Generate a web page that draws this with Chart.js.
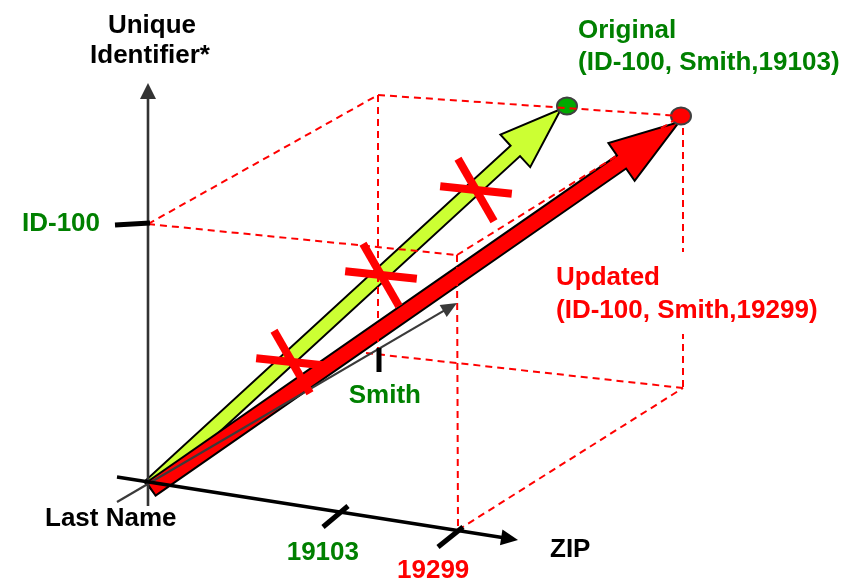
<!DOCTYPE html>
<html>
<head>
<meta charset="utf-8">
<script src="https://cdn.jsdelivr.net/npm/chart.js@4.4.1/dist/chart.umd.min.js"></script>
<style>
  html, body { margin: 0; padding: 0; background: #fff; }
  #diagram { display: block; }
</style>
</head>
<body>
<canvas id="diagram" width="854" height="588"></canvas>
<script>
  // diagram space: x 0..854 right, y 0..588 down
  var origin = [148, 484];
  var originalTip = [561, 109];
  var updatedTip = [679, 122];
  var originalDot = [567, 106];
  var updatedDot = [681, 116];
  var lastNameAxis = [[117, 502], [457, 303]];
  var idAxis = [[148, 506], [148, 83]];
  var zipAxis = [[117, 477], [518, 540]];

  // dashed guide box, each [x1, y1, x2, y2]
  var guideSegments = [
    [148, 224, 378, 95],
    [378, 95, 681, 116],
    [148, 224, 457, 255],
    [457, 255, 681, 116],
    [378, 95, 378, 355],
    [366, 353, 683, 388],
    [683, 116, 683, 388],
    [457, 255, 458, 530],
    [458, 530, 683, 388]
  ];

  var crossMarks = [[292, 362], [381, 275], [476, 190]];

  // tick marks on the three axes, each [x1, y1, x2, y2]
  var tickMarks = [
    [115, 225, 150, 223],
    [379, 348, 379, 372],
    [323, 527, 348, 506],
    [438, 547, 463, 527]
  ];

  var axisTitles = ["Unique", "Identifier*", "Last Name", "ZIP"];
  var tickLabels = ["ID-100", "Smith", "19103", "19299"];
  var originalLabel = ["Original", "(ID-100, Smith,19103)"];
  var updatedLabel = ["Updated", "(ID-100, Smith,19299)"];

  var GREEN = "#008000";
  var RED = "#ff0000";
  var FONT = 'bold 26px "Liberation Sans", Arial, sans-serif';

  function arrowPoly(ctx, t, p, w, hw, hl) {
    var dx = p[0] - t[0], dy = p[1] - t[1];
    var len = Math.sqrt(dx * dx + dy * dy);
    var ux = dx / len, uy = dy / len, nx = -uy, ny = ux;
    var bx = p[0] - ux * hl, by = p[1] - uy * hl;
    ctx.beginPath();
    ctx.moveTo(t[0] + nx * w, t[1] + ny * w);
    ctx.lineTo(bx + nx * w, by + ny * w);
    ctx.lineTo(bx + nx * hw, by + ny * hw);
    ctx.lineTo(p[0], p[1]);
    ctx.lineTo(bx - nx * hw, by - ny * hw);
    ctx.lineTo(bx - nx * w, by - ny * w);
    ctx.lineTo(t[0] - nx * w, t[1] - ny * w);
    ctx.closePath();
  }

  function thinArrow(ctx, t, p, color, width, hw, hl) {
    var dx = p[0] - t[0], dy = p[1] - t[1];
    var len = Math.sqrt(dx * dx + dy * dy);
    var ux = dx / len, uy = dy / len, nx = -uy, ny = ux;
    var bx = p[0] - ux * hl, by = p[1] - uy * hl;
    ctx.strokeStyle = color;
    ctx.lineWidth = width;
    ctx.beginPath();
    ctx.moveTo(t[0], t[1]);
    ctx.lineTo(bx + ux, by + uy);
    ctx.stroke();
    ctx.fillStyle = color;
    ctx.beginPath();
    ctx.moveTo(p[0], p[1]);
    ctx.lineTo(bx + nx * hw, by + ny * hw);
    ctx.lineTo(bx - nx * hw, by - ny * hw);
    ctx.closePath();
    ctx.fill();
  }

  function pt(chart, p) {
    return [chart.scales.x.getPixelForValue(p[0]), chart.scales.y.getPixelForValue(p[1])];
  }

  var diagramPlugin = {
    id: "diagram",
    beforeDatasetsDraw: function (chart) {
      var ctx = chart.ctx;
      ctx.save();
      ctx.lineJoin = "miter";
      ctx.lineCap = "butt";

      // fat arrows
      arrowPoly(ctx, pt(chart, [origin[0] + 1, origin[1] + 3]), pt(chart, originalTip), 7, 22, 62);
      ctx.fillStyle = "#ccff33";
      ctx.fill();
      ctx.strokeStyle = "#000";
      ctx.lineWidth = 2;
      ctx.stroke();

      arrowPoly(ctx, pt(chart, [origin[0] + 3, origin[1] + 5]), pt(chart, updatedTip), 8, 23, 70);
      ctx.fillStyle = RED;
      ctx.fill();
      ctx.stroke();

      // end dots
      var g = pt(chart, originalDot), r = pt(chart, updatedDot);
      ctx.lineWidth = 2;
      ctx.strokeStyle = "#404040";
      ctx.beginPath();
      ctx.ellipse(g[0], g[1], 10, 8.5, 0, 0, Math.PI * 2);
      ctx.fillStyle = "#00aa00";
      ctx.fill();
      ctx.stroke();
      ctx.beginPath();
      ctx.ellipse(r[0], r[1], 10, 8.5, 0, 0, Math.PI * 2);
      ctx.fillStyle = RED;
      ctx.fill();
      ctx.stroke();
      ctx.restore();
    },
    afterDatasetsDraw: function (chart) {
      var ctx = chart.ctx;
      ctx.save();

      // white box behind the updated label breaks the dashed line
      var box = pt(chart, [550, 252]);
      ctx.fillStyle = "#fff";
      ctx.fillRect(box[0], box[1], 280, 82);

      // axes
      thinArrow(ctx, pt(chart, lastNameAxis[0]), pt(chart, lastNameAxis[1]), "#3a3a3a", 2.2, 7, 16);
      thinArrow(ctx, pt(chart, idAxis[0]), pt(chart, idAxis[1]), "#333", 2.6, 8, 16);
      thinArrow(ctx, pt(chart, zipAxis[0]), pt(chart, zipAxis[1]), "#000", 3.5, 8, 17);

      // tick marks
      ctx.strokeStyle = "#000";
      ctx.lineWidth = 5;
      ctx.lineCap = "butt";
      tickMarks.forEach(function (s) {
        var a = pt(chart, [s[0], s[1]]), b = pt(chart, [s[2], s[3]]);
        ctx.beginPath();
        ctx.moveTo(a[0], a[1]);
        ctx.lineTo(b[0], b[1]);
        ctx.stroke();
      });

      // red crosses over the original arrow
      ctx.strokeStyle = RED;
      ctx.lineWidth = 8;
      crossMarks.forEach(function (c) {
        var p = pt(chart, c);
        [6, 60].forEach(function (deg) {
          var a = deg * Math.PI / 180;
          var dx = Math.cos(a) * 36, dy = Math.sin(a) * 36;
          ctx.beginPath();
          ctx.moveTo(p[0] - dx, p[1] - dy);
          ctx.lineTo(p[0] + dx, p[1] + dy);
          ctx.stroke();
        });
      });

      // texts
      ctx.font = FONT;
      ctx.textBaseline = "alphabetic";
      ctx.fillStyle = "#000";
      ctx.textAlign = "center";
      ctx.fillText(axisTitles[0], 152, 33);
      ctx.fillText(axisTitles[1], 150, 63);
      ctx.textAlign = "left";
      ctx.fillText(axisTitles[2], 45, 526);
      ctx.fillText(axisTitles[3], 550, 557);

      ctx.fillStyle = GREEN;
      ctx.fillText(tickLabels[0], 22, 231);
      ctx.textAlign = "right";
      ctx.fillText(tickLabels[1], 421, 403);
      ctx.fillText(tickLabels[2], 359, 560);
      ctx.textAlign = "left";
      ctx.fillText(originalLabel[0], 578, 38);
      ctx.fillText(originalLabel[1], 578, 70);

      ctx.fillStyle = RED;
      ctx.fillText(tickLabels[3], 397, 578);
      ctx.fillText(updatedLabel[0], 556, 285);
      ctx.fillText(updatedLabel[1], 556, 318);
      ctx.restore();
    }
  };

  var guideDatasets = guideSegments.map(function (s) {
    return {
      data: [{ x: s[0], y: s[1] }, { x: s[2], y: s[3] }],
      showLine: true,
      borderColor: RED,
      borderWidth: 2,
      borderDash: [7, 5],
      pointRadius: 0,
      fill: false
    };
  });

  new Chart(document.getElementById("diagram"), {
    type: "scatter",
    data: { datasets: guideDatasets },
    options: {
      responsive: false,
      animation: false,
      layout: { padding: 0 },
      plugins: { legend: { display: false }, tooltip: { enabled: false } },
      scales: {
        x: { type: "linear", min: 0, max: 854, display: false },
        y: { type: "linear", min: 0, max: 588, reverse: true, display: false }
      }
    },
    plugins: [diagramPlugin]
  });
</script>
</body>
</html>
